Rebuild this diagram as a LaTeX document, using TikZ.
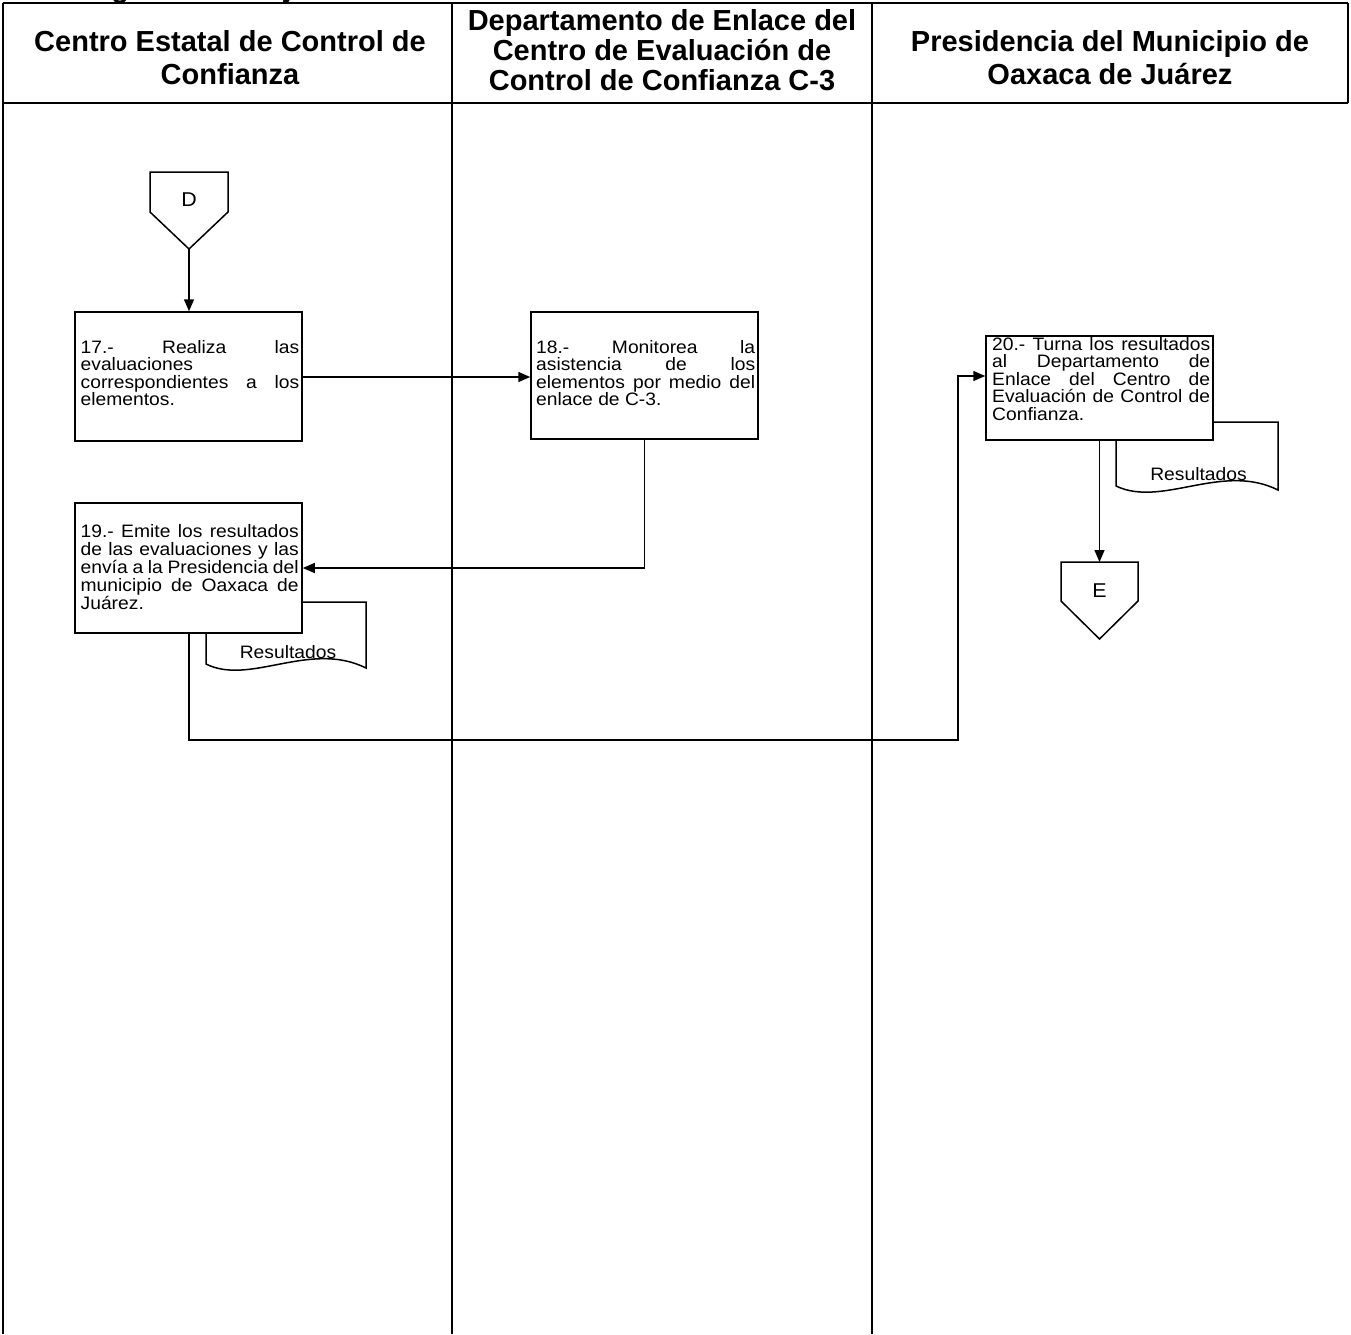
\documentclass[tikz,border=0pt]{standalone}
\usepackage{fontspec}
\setmainfont{Liberation Sans}
\newfontfamily\bodyfont[FakeStretch=1.07]{Liberation Sans}
\newfontfamily\hdrfont{Liberation Sans}
\usetikzlibrary{arrows.meta}
\begin{document}
\begin{tikzpicture}[x=1pt,y=-1pt,
  frame/.style={line width=2.2pt},
  sepline/.style={line width=1.5pt},
  procbox/.style={draw, line width=1.5pt, fill=white, inner sep=0pt},
  txt/.style={anchor=base west, inner sep=0pt, font=\bodyfont\fontsize{18}{17.5}\selectfont},
  lbl/.style={inner sep=0pt, font=\bodyfont\fontsize{18}{17.5}\selectfont},
  conn/.style={line width=1.5pt, -{Triangle[length=12pt,width=10pt]}},
  docshape/.style={draw, line width=1.5pt, fill=white},
  offpage/.style={draw, line width=1.5pt, fill=white},
  hdr/.style={align=center, inner sep=0pt, font=\hdrfont\bfseries\fontsize{29}{33}\selectfont},
]
\useasboundingbox (0,0) rectangle (1351,1334);

% clipped title remnant
\begin{scope}
\clip (0,0) rectangle (1351,1334);
\node[anchor=base west, inner sep=0pt, font=\hdrfont\bfseries\fontsize{29}{30}\selectfont] (title) at (66,-3) {Diagrama de flujo};
\end{scope}

% frame
\draw[frame] (3,3) -- (1348,3);
\draw[frame] (3,103) -- (1348,103);
\draw[frame] (3,3) -- (3,1334);
\draw[frame] (1348,3) -- (1348,103);
\draw[sepline] (452,3) -- (452,1334);
\draw[sepline] (872,3) -- (872,1334);

% headers
\node[hdr] (h1) at (230,58) {Centro Estatal de Control de\\Confianza};
\node[hdr, font=\hdrfont\bfseries\fontsize{29}{30}\selectfont] (h2) at (662,50) {Departamento de Enlace del\\Centro de Evaluación de\\Control de Confianza C-3};
\node[hdr] (h3) at (1110,58) {Presidencia del Municipio de\\Oaxaca de Juárez};

% documents (behind boxes)
\draw[docshape] (206,602) -- (366,602) -- (366,668) .. controls (310,640) and (250,686) .. (206,664) -- cycle;
\node[lbl, anchor=base] (r19) at (288,658) {Resultados};
\draw[docshape] (1116,422) -- (1278,422) -- (1278,490) .. controls (1222,462) and (1162,508) .. (1116,486) -- cycle;
\node[lbl, anchor=base] (r20) at (1198.5,480) {Resultados};

% off-page connectors
\draw[offpage] (150,172) -- (228,172) -- (228,212) -- (189,249) -- (150,212) -- cycle;
\node[lbl, font=\bodyfont\fontsize{20}{20}\selectfont] (D) at (189,200) {D};
\coordinate (Dtip) at (189,249);
\draw[offpage] (1061,562) -- (1138,562) -- (1138,601) -- (1099.5,639) -- (1061,601) -- cycle;
\node[lbl, font=\bodyfont\fontsize{20}{20}\selectfont] (E) at (1099.5,591) {E};
\coordinate (Etop) at (1099.5,562);

% process boxes
\node[procbox, minimum width=227pt, minimum height=129pt] (b17) at (188.5,376.5) {};
\node[procbox, minimum width=227pt, minimum height=127pt] (b18) at (644.5,375.5) {};
\node[procbox, minimum width=227pt, minimum height=130pt] (b19) at (188.5,568) {};
\node[procbox, minimum width=227pt, minimum height=104pt] (b20) at (1099.5,388) {};

\node[txt] (t17) at (80.5,353) {\parbox[t]{218.5pt}{17.- Realiza las\linebreak evaluaciones\newline correspondientes a los\linebreak elementos.}};
\node[txt] (t18) at (536,353) {\parbox[t]{219pt}{18.- Monitorea la\linebreak asistencia de los\linebreak elementos por medio del\linebreak enlace de C-3.}};
\node[txt, font=\bodyfont\fontsize{18}{18}\selectfont] (t19) at (80.5,537) {\parbox[t]{218pt}{19.- Emite los resultados\linebreak de las evaluaciones y las\linebreak envía a la Presidencia del\linebreak municipio de Oaxaca de\linebreak Juárez.}};
\node[txt] (t20) at (992,350) {\parbox[t]{218pt}{20.- Turna los resultados\linebreak al Departamento de\linebreak Enlace del Centro de\linebreak Evaluación de Control de\linebreak Confianza.}};

% connectors
\coordinate (c1) at (189,740);
\coordinate (c2) at (958,740);
\coordinate (c3) at (958,376);
\coordinate (c4) at (644.5,568);
\draw[conn] (Dtip) -- (b17.north -| Dtip);
\draw[conn] (b17.east |- 0,377) -- (b18.west |- 0,377);
\draw[conn] (b18.south) -- (c4) -- (b19.east |- c4);
\draw[conn] (b19.south -| c1) -- (c1) -- (c2) -- (c3) -- (b20.west |- c3);
\draw[conn] (b20.south) -- (Etop);
\end{tikzpicture}
\end{document}
